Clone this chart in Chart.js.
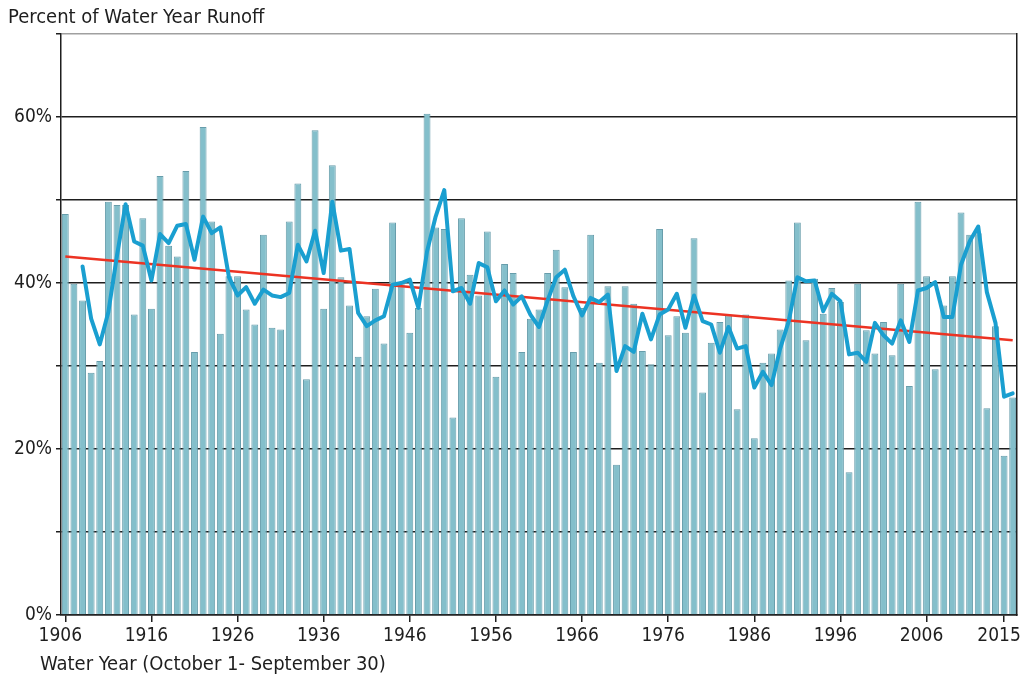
<!DOCTYPE html>
<html>
<head>
<meta charset="utf-8">
<script src="https://cdn.jsdelivr.net/npm/chart.js@4/dist/chart.umd.min.js"></script>
<style>
  html, body { margin: 0; padding: 0; background: #fff; }
  #wrap { width: 1022px; height: 681px; }
</style>
</head>
<body>
<div id="wrap"><canvas id="runoffChart"></canvas></div>
<script>
// Water years (October 1 - September 30)
const years = [
  1906, 1907, 1908, 1909, 1910, 1911, 1912, 1913, 1914, 1915,
  1916, 1917, 1918, 1919, 1920, 1921, 1922, 1923, 1924, 1925,
  1926, 1927, 1928, 1929, 1930, 1931, 1932, 1933, 1934, 1935,
  1936, 1937, 1938, 1939, 1940, 1941, 1942, 1943, 1944, 1945,
  1946, 1947, 1948, 1949, 1950, 1951, 1952, 1953, 1954, 1955,
  1956, 1957, 1958, 1959, 1960, 1961, 1962, 1963, 1964, 1965,
  1966, 1967, 1968, 1969, 1970, 1971, 1972, 1973, 1974, 1975,
  1976, 1977, 1978, 1979, 1980, 1981, 1982, 1983, 1984, 1985,
  1986, 1987, 1988, 1989, 1990, 1991, 1992, 1993, 1994, 1995,
  1996, 1997, 1998, 1999, 2000, 2001, 2002, 2003, 2004, 2005,
  2006, 2007, 2008, 2009, 2010, 2011, 2012, 2013, 2014, 2015,
  2016
];

// percent of water year runoff, one bar per year
const runoffPct = [
  48.3, 39.9, 37.9, 29.2, 30.6, 49.8, 49.4, 49.4, 36.2, 47.8,
  36.9, 52.9, 44.5, 43.2, 53.5, 31.7, 58.8, 47.4, 33.9, 40.8,
  40.8, 36.8, 35.0, 45.8, 34.6, 34.4, 47.4, 52.0, 28.4, 58.4,
  36.9, 54.2, 40.7, 37.3, 31.1, 36.0, 39.3, 32.7, 47.3, 40.0,
  34.0, 37.0, 60.4, 46.7, 46.5, 23.8, 47.8, 41.0, 38.5, 46.2,
  28.7, 42.3, 41.2, 31.7, 35.7, 36.8, 41.2, 44.0, 39.5, 31.7,
  37.0, 45.8, 30.4, 39.6, 18.1, 39.6, 37.5, 31.8, 30.2, 46.5,
  33.7, 36.0, 34.0, 45.4, 26.8, 32.8, 35.3, 36.1, 24.8, 36.2,
  21.3, 30.4, 31.5, 34.4, 40.3, 47.3, 33.1, 40.5, 36.3, 39.4,
  37.7, 17.2, 39.9, 34.3, 31.5, 35.3, 31.3, 39.9, 27.6, 49.8,
  40.8, 29.6, 37.3, 40.8, 48.5, 45.8, 46.0, 24.9, 34.8, 19.2,
  26.2
];

// 3-year running average (blue line), starts in 1908
const avg3yr = [
  null, null,
  42.0, 35.7, 32.6, 36.5, 43.3, 49.5, 45.0, 44.5, 40.3, 45.9,
  44.8, 46.9, 47.1, 42.8, 48.0, 46.0, 46.7, 40.7, 38.5, 39.5,
  37.5, 39.2, 38.5, 38.3, 38.8, 44.6, 42.6, 46.3, 41.2, 49.8,
  43.9, 44.1, 36.4, 34.8, 35.5, 36.0, 39.8, 40.0, 40.4, 37.0,
  43.8, 48.0, 51.2, 39.0, 39.4, 37.5, 42.4, 41.9, 37.8, 39.1,
  37.4, 38.4, 36.2, 34.7, 37.9, 40.7, 41.6, 38.4, 36.1, 38.2,
  37.7, 38.6, 29.4, 32.4, 31.7, 36.3, 33.2, 36.2, 36.8, 38.7,
  34.6, 38.5, 35.4, 35.0, 31.6, 34.7, 32.1, 32.4, 27.4, 29.3,
  27.7, 32.1, 35.4, 40.7, 40.2, 40.3, 36.6, 38.7, 37.8, 31.4,
  31.6, 30.5, 35.2, 33.7, 32.7, 35.5, 32.9, 39.1, 39.4, 40.1,
  35.9, 35.9, 42.2, 45.0, 46.8, 38.9, 35.2, 26.3, 26.7
];

// linear trend, value at first and last year
const trendEnds = [43.2, 33.1];

// axis labels
const tickYears = [1906, 1916, 1926, 1936, 1946, 1956, 1966, 1976, 1986, 1996, 2006, 2015];
const yTickLabels = [0, 20, 40, 60];

const trend = years.map((y, i) =>
  i === 0 ? trendEnds[0] : (i === years.length - 1 ? trendEnds[1] : null));

const FONT = "'Liberation Sans Narrow', 'DejaVu Sans Condensed', sans-serif";
const INK = '#1e1e1e';
const xTitle = 'Water Year (October 1- September 30)';

Chart.defaults.font.family = FONT;
Chart.defaults.color = INK;

// bottom-left axis caption, sits left of the plot edge like the original
const xCaption = {
  id: 'xCaption',
  afterDraw(chart) {
    const c = chart.ctx;
    const area = chart.chartArea;
    c.save();
    c.font = '20px ' + FONT;
    c.fillStyle = INK;
    c.textBaseline = 'middle';
    c.fillText(xTitle, area.left - 21, area.bottom + 50);
    c.restore();
  }
};

new Chart(document.getElementById('runoffChart'), {
  type: 'bar',
  data: {
    labels: years,
    datasets: [
      {
        type: 'line',
        data: avg3yr,
        borderColor: '#1a9fd0',
        borderWidth: 4,
        pointRadius: 0,
        borderJoinStyle: 'round',
        borderCapStyle: 'round',
        tension: 0,
        order: 1
      },
      {
        type: 'line',
        data: trend,
        borderColor: '#ec3323',
        borderWidth: 2.5,
        pointRadius: 0,
        spanGaps: true,
        order: 2
      },
      {
        data: runoffPct,
        backgroundColor: '#84bfcb',
        borderColor: '#679dab',
        borderWidth: 1,
        barPercentage: 0.8,
        categoryPercentage: 1.0,
        order: 3
      }
    ]
  },
  options: {
    responsive: true,
    maintainAspectRatio: false,
    animation: false,
    layout: { padding: { left: 8, right: 4, top: 0, bottom: 0 } },
    plugins: {
      legend: { display: false },
      tooltip: { enabled: false },
      title: {
        display: true,
        text: 'Percent of Water Year Runoff',
        align: 'start',
        color: INK,
        font: { size: 20, weight: 'normal' },
        padding: { top: 6, bottom: 4 }
      }
    },
    scales: {
      x: {
        grid: {
          offset: false,
          drawOnChartArea: false,
          tickLength: 7,
          lineWidth: 1.5,
          tickColor: (ctx) => tickYears.includes(years[ctx.index]) ? INK : 'rgba(0,0,0,0)'
        },
        border: { color: INK, width: 1.5 },
        ticks: {
          autoSkip: false,
          maxRotation: 0,
          padding: 3,
          labelOffset: -5,
          font: { size: 19 },
          callback: (v, i) => tickYears.includes(years[i]) ? String(years[i]) : ''
        },
        afterFit: (s) => { s.height = 66; }
      },
      y: {
        min: 0,
        max: 70,
        grid: {
          color: (ctx) => ctx.tick.value === 70 ? '#a0a0a0' : INK,
          lineWidth: 1.5,
          tickLength: 5,
          tickColor: INK
        },
        border: { color: INK, width: 1.5 },
        ticks: {
          stepSize: 10,
          padding: 4,
          font: { size: 19 },
          callback: (v) => yTickLabels.includes(v) ? v + '%' : ''
        },
        afterFit: (s) => { s.width = 53; }
      },
      yRight: {
        position: 'right',
        grid: { drawOnChartArea: false, drawTicks: false },
        ticks: { display: false },
        border: { color: INK, width: 1.5 },
        afterFit: (s) => { s.width = 1; }
      }
    }
  },
  plugins: [xCaption]
});
</script>
</body>
</html>
